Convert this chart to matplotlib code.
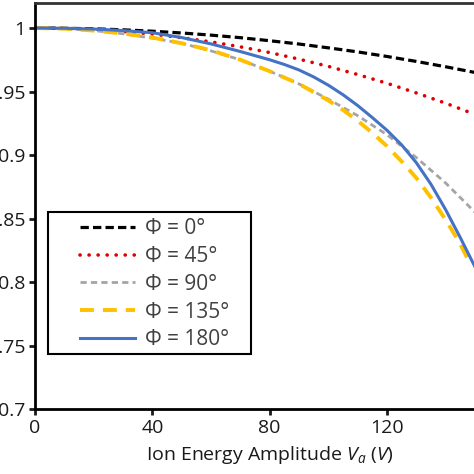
import matplotlib
matplotlib.use("Agg")
import matplotlib.pyplot as plt
from matplotlib.patches import Rectangle
from matplotlib.ticker import FuncFormatter

plt.rcParams['font.family'] = ['Open Sans', 'DejaVu Sans']
plt.rcParams['mathtext.fontset'] = 'custom'
plt.rcParams['mathtext.it'] = 'Open Sans:italic'
plt.rcParams['mathtext.rm'] = 'Open Sans'
plt.rcParams['lines.scale_dashes'] = False

# data
v = [0, 10, 20, 30, 40, 50, 60, 70, 80, 90, 100, 110, 120, 130, 140, 150]
v_135 = [0, 10, 20, 30, 40, 50, 60, 70, 80, 90, 100, 105, 110, 115, 120, 125,
         130, 135, 140, 145, 148]
v_180 = [0, 10, 20, 30, 40, 50, 60, 70, 80, 85, 90, 95, 100, 105, 110, 115,
         120, 125, 130, 135, 140, 145, 150]
phi_0 = [1, 0.9998, 0.9994, 0.9986, 0.9975, 0.9961, 0.9944, 0.9924, 0.990, 0.9874,
         0.9844, 0.9812, 0.9776, 0.9737, 0.9695, 0.965]
phi_45 = [1, 0.9997, 0.9988, 0.9973, 0.9952, 0.9924, 0.9891, 0.9852, 0.9807, 0.9755,
          0.9698, 0.9634, 0.9565, 0.9489, 0.9408, 0.932]
phi_90 = [1, 0.9995, 0.998, 0.9955, 0.992, 0.988, 0.982, 0.975, 0.966, 0.956,
          0.944, 0.931, 0.916, 0.898, 0.878, 0.855]
phi_135 = [1, 0.9995, 0.998, 0.9957, 0.9925, 0.988, 0.9825, 0.975, 0.966, 0.956,
           0.943, 0.9355, 0.927, 0.9175, 0.907, 0.895, 0.882, 0.8665, 0.849,
           0.830, 0.816]
phi_180 = [1, 0.9998, 0.9992, 0.998, 0.9963, 0.9925, 0.9875, 0.9815, 0.975, 0.9713,
           0.967, 0.9615, 0.955, 0.9475, 0.939, 0.9295, 0.9195, 0.908, 0.894,
           0.877, 0.857, 0.835, 0.812]
labels = ['Φ = 0°', 'Φ = 45°', 'Φ = 90°', 'Φ = 135°', 'Φ = 180°']
x_ticks = [0, 40, 80, 120]
y_ticks = [0.7, 0.75, 0.8, 0.85, 0.9, 0.95, 1.0]

fig = plt.figure(figsize=(4.74, 4.74), dpi=100)
ax = fig.add_axes([35 / 474, 65 / 474, 0.99, 406 / 474])

ax.plot(v, phi_0, color='black', lw=2.3, dashes=(6, 3), label=labels[0])
ax.plot(v, phi_45, color='#E00000', lw=2.6, dashes=(0.1, 6.4),
        dash_capstyle='round', label=labels[1])
ax.plot(v, phi_90, color='#A5A5A5', lw=2.0, dashes=(4.5, 3), label=labels[2])
ax.plot(v_135, phi_135, color='#FFC000', lw=2.8, dashes=(10, 6.5), label=labels[3])
ax.plot(v_180, phi_180, color='#4472C4', lw=2.2, label=labels[4])

ax.set_xlim(0, 160)
ax.set_ylim(0.7, 1.0197)
ax.set_xticks(x_ticks)
ax.set_yticks(y_ticks)
ax.yaxis.set_major_formatter(FuncFormatter(lambda y, p: '%g' % round(y, 2)))

for s in ['left', 'bottom', 'top', 'right']:
    ax.spines[s].set_linewidth(2)
ax.spines['top'].set_color('#333333')
ax.tick_params(axis='both', direction='out', length=4, width=2,
               labelsize=14, colors='#1a1a1a', pad=3)

ax.set_xlabel('Ion Energy Amplitude $V_a$ $(V)$', fontsize=14, color='#1a1a1a',
              labelpad=5)

# legend box drawn by hand so the inner margins match
ax.add_patch(Rectangle((48 / 474, 1 - 354 / 474), 203 / 474, 142 / 474,
                       transform=fig.transFigure, facecolor='white',
                       edgecolor='black', lw=1.5, zorder=4, clip_on=False))
leg = ax.legend(loc='upper left', bbox_to_anchor=(80 / 474, 1 - 218 / 474),
                bbox_transform=fig.transFigure, borderaxespad=0, borderpad=0,
                frameon=False, fontsize=15, handlelength=2.64,
                labelspacing=0.33, handletextpad=0.48)
leg.set_zorder(5)
for t in leg.get_texts():
    t.set_color('#404040')

fig.savefig('out.png', dpi=100)
